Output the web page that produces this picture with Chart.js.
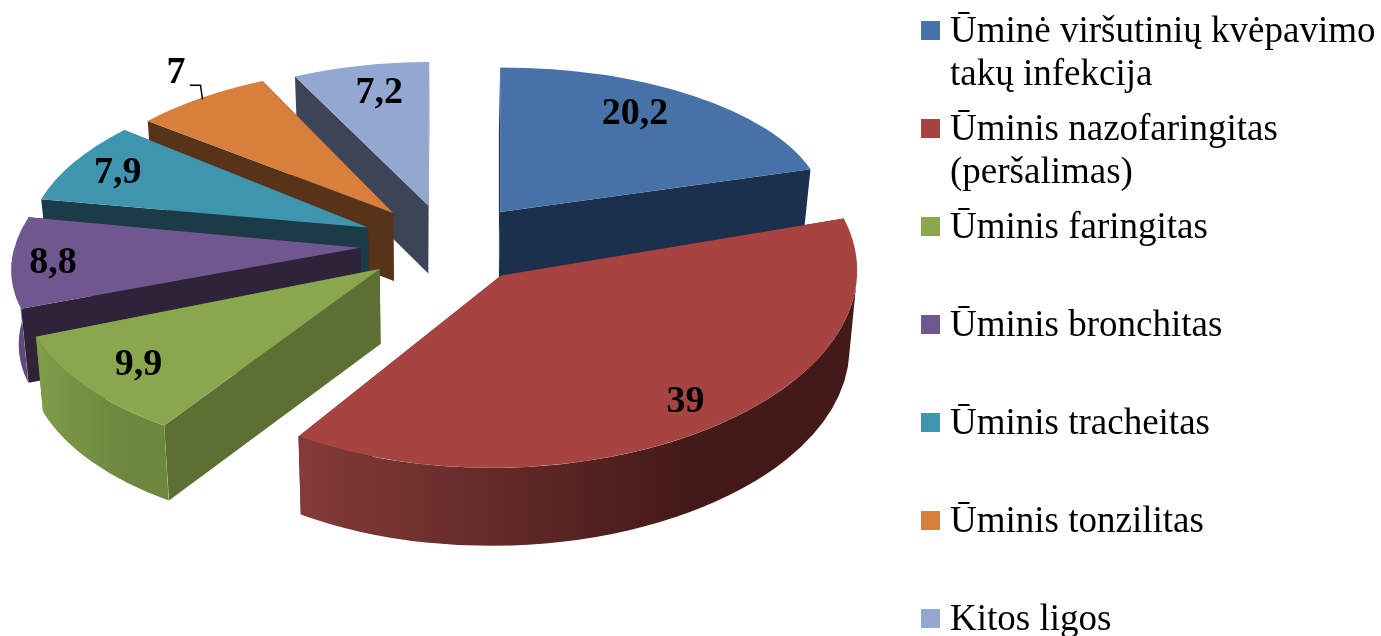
<!DOCTYPE html>
<html lang="lt">
<head>
<meta charset="utf-8">
<title>Ūminės kvėpavimo takų ligos</title>
<script src="https://cdn.jsdelivr.net/npm/chart.js@4"></script>
<style>
  html, body { margin: 0; padding: 0; background: #fff; overflow: hidden; }
  #wrap { width: 1381px; height: 636px; }
</style>
</head>
<body>
<div id="wrap"><canvas id="chartLigos"></canvas></div>
<script>
// Duomenys
const legendLines = [
  ['Ūminė viršutinių kvėpavimo', 'takų infekcija'],
  ['Ūminis nazofaringitas', '(peršalimas)'],
  ['Ūminis faringitas'],
  ['Ūminis bronchitas'],
  ['Ūminis tracheitas'],
  ['Ūminis tonzilitas'],
  ['Kitos ligos']
];
const values = [20.2, 39, 9.9, 8.8, 7.9, 7, 7.2];
const valueLabels = ['20,2', '39', '9,9', '8,8', '7,9', '7', '7,2'];

// Spalvos
const topColors = ['#4672a8', '#a64442', '#8aa64e', '#71578f', '#4095ae', '#d77f3b', '#93a8d0'];
const sideColors = ['#1b304d', '#441b19', '#5d7033', '#2f2339', '#1a3b47', '#57331a', '#3c4558'];
const rimColors = [
  ['#1b304d', '#1b304d'],
  ['#843b39', '#431a18'],
  ['#7f9d4a', '#6c873e'],
  ['#71578f', '#5f4a79'],
  ['#1a3b47', '#1a3b47'],
  ['#57331a', '#57331a'],
  ['#3c4558', '#3c4558']
];

// 3D pjūvių forma (perspektyva apytiksliai: kiekvienam pjūviui savas spindulys, suspaudimas ir šlytis)
const sliceRadius = [325, 356, 360, 346, 338, 326, 307];
const sliceSquash = [0.445, 0.54, 0.519, 0.486, 0.46, 0.45, 0.467];
const sliceShear = [0, -0.05, -0.12, -0.275, -0.197, -0.09, -0.007];
const sliceDepth = [65, 78, 75, 74, 65, 68, 68];
const labelReachX = [0.694, 0.855, 0.866, 0.895, 0.818, 1.075, 0.725];
const labelReachY = [0.86, 0.81, 0.8, 0.867, 0.865, 1.235, 0.814];
const pie3d = { cx: 448, cy: 244, explode: 88, tilt: 0.45, vanishX: 430, narrowing: 0.982 };
const legendStyle = { x: 921, top: 21, box: 19, textX: 950, rowStep: 98, lineStep: 42.5 };

function sliceGeometry(arc, i) {
  const mid = (arc.startAngle + arc.endAngle) / 2;
  return {
    mid,
    radius: sliceRadius[i],
    squash: sliceSquash[i],
    shear: sliceShear[i],
    depth: sliceDepth[i],
    x: pie3d.cx + pie3d.explode * Math.cos(mid),
    y: pie3d.cy + pie3d.explode * Math.sin(mid) * pie3d.tilt
  };
}

// Apatinė pjūvio plokštuma šiek tiek siauresnė
function lowerX(x) {
  return pie3d.vanishX + (x - pie3d.vanishX) * pie3d.narrowing;
}

// Taškas ant pjūvio krašto ekrano koordinatėmis
function rimPoint(g, angle) {
  const py = g.radius * g.squash * Math.sin(angle);
  return { x: g.x + g.radius * Math.cos(angle) + g.shear * py, y: g.y + py };
}

function drawSideWall(ctx, g, angle, color) {
  const p = rimPoint(g, angle);
  ctx.fillStyle = color;
  ctx.beginPath();
  ctx.moveTo(g.x, g.y);
  ctx.lineTo(p.x, p.y);
  ctx.lineTo(lowerX(p.x), p.y + g.depth);
  ctx.lineTo(lowerX(g.x), g.y + g.depth);
  ctx.closePath();
  ctx.fill();
}

function drawRimWall(ctx, g, arc, stops) {
  const a0 = Math.max(arc.startAngle, 0);
  const a1 = Math.min(arc.endAngle, Math.PI);
  if (a1 <= a0) return;
  const ry = g.radius * g.squash;
  const xa = rimPoint(g, a0).x;
  const xb = rimPoint(g, a1).x;
  const grad = ctx.createLinearGradient(Math.min(xa, xb), 0, Math.max(xa, xb) - (xb < xa ? 0.3 * Math.abs(xa - xb) : 0), 0);
  grad.addColorStop(0, stops[0]);
  grad.addColorStop(1, stops[1]);
  ctx.fillStyle = grad;
  ctx.beginPath();
  ctx.save();
  ctx.translate(g.x, g.y);
  ctx.transform(1, 0, g.shear, 1, 0, 0);
  ctx.ellipse(0, 0, g.radius, ry, 0, a0, a1);
  ctx.restore();
  ctx.save();
  ctx.translate(lowerX(g.x), g.y + g.depth);
  ctx.transform(1, 0, g.shear, 1, 0, 0);
  ctx.ellipse(0, 0, g.radius * pie3d.narrowing, ry, 0, a1, a0, true);
  ctx.restore();
  ctx.closePath();
  ctx.fill();
}

const tiltedPie = {
  id: 'tiltedPie',
  beforeDatasetDraw(chart, args) {
    const ctx = chart.ctx;
    const arcs = args.meta.data;
    const order = arcs.map((arc, i) => i)
      .sort((a, b) => Math.sin((arcs[a].startAngle + arcs[a].endAngle) / 2) - Math.sin((arcs[b].startAngle + arcs[b].endAngle) / 2));

    order.forEach(i => {
      const arc = arcs[i];
      const g = sliceGeometry(arc, i);
      const edges = [arc.startAngle, arc.endAngle].sort((a, b) => Math.sin(a) - Math.sin(b));
      edges.forEach(a => drawSideWall(ctx, g, a, sideColors[i]));
      drawRimWall(ctx, g, arc, rimColors[i]);

      ctx.save();
      ctx.translate(g.x, g.y);
      ctx.transform(1, 0, g.shear, 1, 0, 0);
      ctx.scale(g.radius / arc.outerRadius, g.radius * g.squash / arc.outerRadius);
      ctx.translate(-arc.x, -arc.y);
      arc.draw(ctx);
      ctx.restore();
    });

    // Reikšmės
    ctx.save();
    ctx.font = 'bold 38px "Liberation Serif"';
    ctx.fillStyle = '#000';
    ctx.textAlign = 'center';
    ctx.textBaseline = 'middle';
    arcs.forEach((arc, i) => {
      const g = sliceGeometry(arc, i);
      const lx = g.x + g.radius * labelReachX[i] * Math.cos(g.mid) + 1;
      const ly = g.y + g.radius * g.squash * labelReachY[i] * Math.sin(g.mid) + 2;
      ctx.fillText(valueLabels[i], lx, ly);
      if (labelReachY[i] > 1) {
        // linija iki pjūvio krašto
        const e = rimPoint(g, g.mid);
        ctx.strokeStyle = '#000';
        ctx.lineWidth = 1.5;
        ctx.beginPath();
        ctx.moveTo(lx + 14, ly + 12);
        ctx.lineTo(e.x, ly + 12);
        ctx.lineTo(e.x + 2, e.y + 1);
        ctx.stroke();
      }
    });
    ctx.restore();
    return false;
  }
};

// Legenda: eilutės žingsnis vienodas, net kai tekstas dviejų eilučių
const sideLegend = {
  id: 'sideLegend',
  afterDraw(chart) {
    const ctx = chart.ctx;
    const s = legendStyle;
    ctx.save();
    ctx.font = '37px "Liberation Serif"';
    ctx.textAlign = 'left';
    ctx.textBaseline = 'alphabetic';
    legendLines.forEach((lines, i) => {
      const top = s.top + i * s.rowStep;
      ctx.fillStyle = topColors[i];
      ctx.fillRect(s.x, top, s.box, s.box);
      ctx.fillStyle = '#000';
      lines.forEach((line, j) => ctx.fillText(line, s.textX, top + s.box + 2 + j * s.lineStep));
    });
    ctx.restore();
  }
};

new Chart(document.getElementById('chartLigos'), {
  type: 'pie',
  data: {
    labels: legendLines,
    datasets: [{
      data: values,
      backgroundColor: topColors,
      borderWidth: 0
    }]
  },
  options: {
    responsive: true,
    maintainAspectRatio: false,
    animation: false,
    plugins: {
      tooltip: { enabled: false },
      legend: { display: false }
    }
  },
  plugins: [tiltedPie, sideLegend]
});
</script>
</body>
</html>
